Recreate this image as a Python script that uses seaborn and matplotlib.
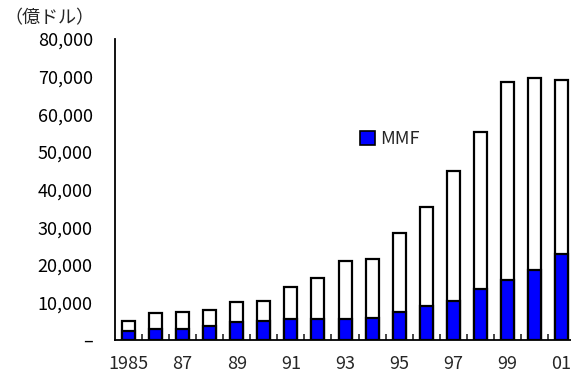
import pandas as pd
import matplotlib
matplotlib.use("Agg")
import matplotlib.pyplot as plt
import matplotlib.ticker as mticker
from matplotlib.patches import Patch
import seaborn as sns

# Data (units: 100 million USD)
years = ["1985", "1986", "1987", "1988", "1989", "1990", "1991", "1992", "1993",
         "1994", "1995", "1996", "1997", "1998", "1999", "2000", "2001"]
year_labels = ["1985", "87", "89", "91", "93", "95", "97", "99", "01"]
total = [5000, 7100, 7500, 8100, 10000, 10500, 14100, 16600, 20900,
         21500, 28400, 35300, 44800, 55300, 68600, 69600, 69200]
mmf = [2500, 3000, 3000, 3600, 4700, 5100, 5500, 5500, 5500,
       5900, 7500, 9100, 10500, 13500, 16000, 18500, 22900]
y_ticks = [0, 10000, 20000, 30000, 40000, 50000, 60000, 70000, 80000]

df = pd.DataFrame({"year": years, "total": total, "MMF": mmf})

sns.set_style("white")
plt.rcParams["font.family"] = ["Noto Sans CJK JP", "DejaVu Sans"]

fig = plt.figure(figsize=(5.71, 3.78), dpi=100)
ax = fig.add_axes([0.2014, 0.1005, 0.7986, 0.7963])

sns.barplot(data=df, x="year", y="total", color="white", edgecolor="black",
            linewidth=1.6, width=0.48, saturation=1, ax=ax)
sns.barplot(data=df, x="year", y="MMF", color="#0000ff", edgecolor="black",
            linewidth=1.6, width=0.48, saturation=1, ax=ax)

ax.set_xlim(-0.5, 16.35)
ax.set_ylim(0, 80000)
ax.set_xlabel("")
ax.set_ylabel("")

# y axis
ax.set_yticks(y_ticks)
ax.yaxis.set_major_formatter(mticker.FuncFormatter(
    lambda v, p: "–" if v == 0 else f"{int(v):,}"))
ax.tick_params(axis="y", direction="in", length=5, width=1.3, pad=16,
               labelsize=13, colors="black")

# x axis: labels every other year, tick marks between bars
ax.set_xticks(range(0, len(years), 2))
ax.set_xticklabels(year_labels)
ax.set_xticks([i + 0.5 for i in range(len(years) - 1)], minor=True)
ax.tick_params(axis="x", which="major", length=0, pad=11, labelsize=13)
ax.tick_params(axis="x", which="minor", direction="in", length=4, width=1.2,
               bottom=True)

for side in ["top", "right"]:
    ax.spines[side].set_visible(False)
for side in ["left", "bottom"]:
    ax.spines[side].set_color("black")
    ax.spines[side].set_linewidth(1.3)

handle = Patch(facecolor="#0000ff", edgecolor="black", linewidth=1.2)
fig.legend([handle], ["MMF"], loc="center left", bbox_to_anchor=(0.630, 0.632),
           frameon=False, fontsize=13, handlelength=0.85, handleheight=0.85,
           handletextpad=0.3, borderpad=0, borderaxespad=0)

fig.text(0.008, 0.952, "（億ドル）", fontsize=13, ha="left", va="center")

fig.savefig("out.png", dpi=100)
